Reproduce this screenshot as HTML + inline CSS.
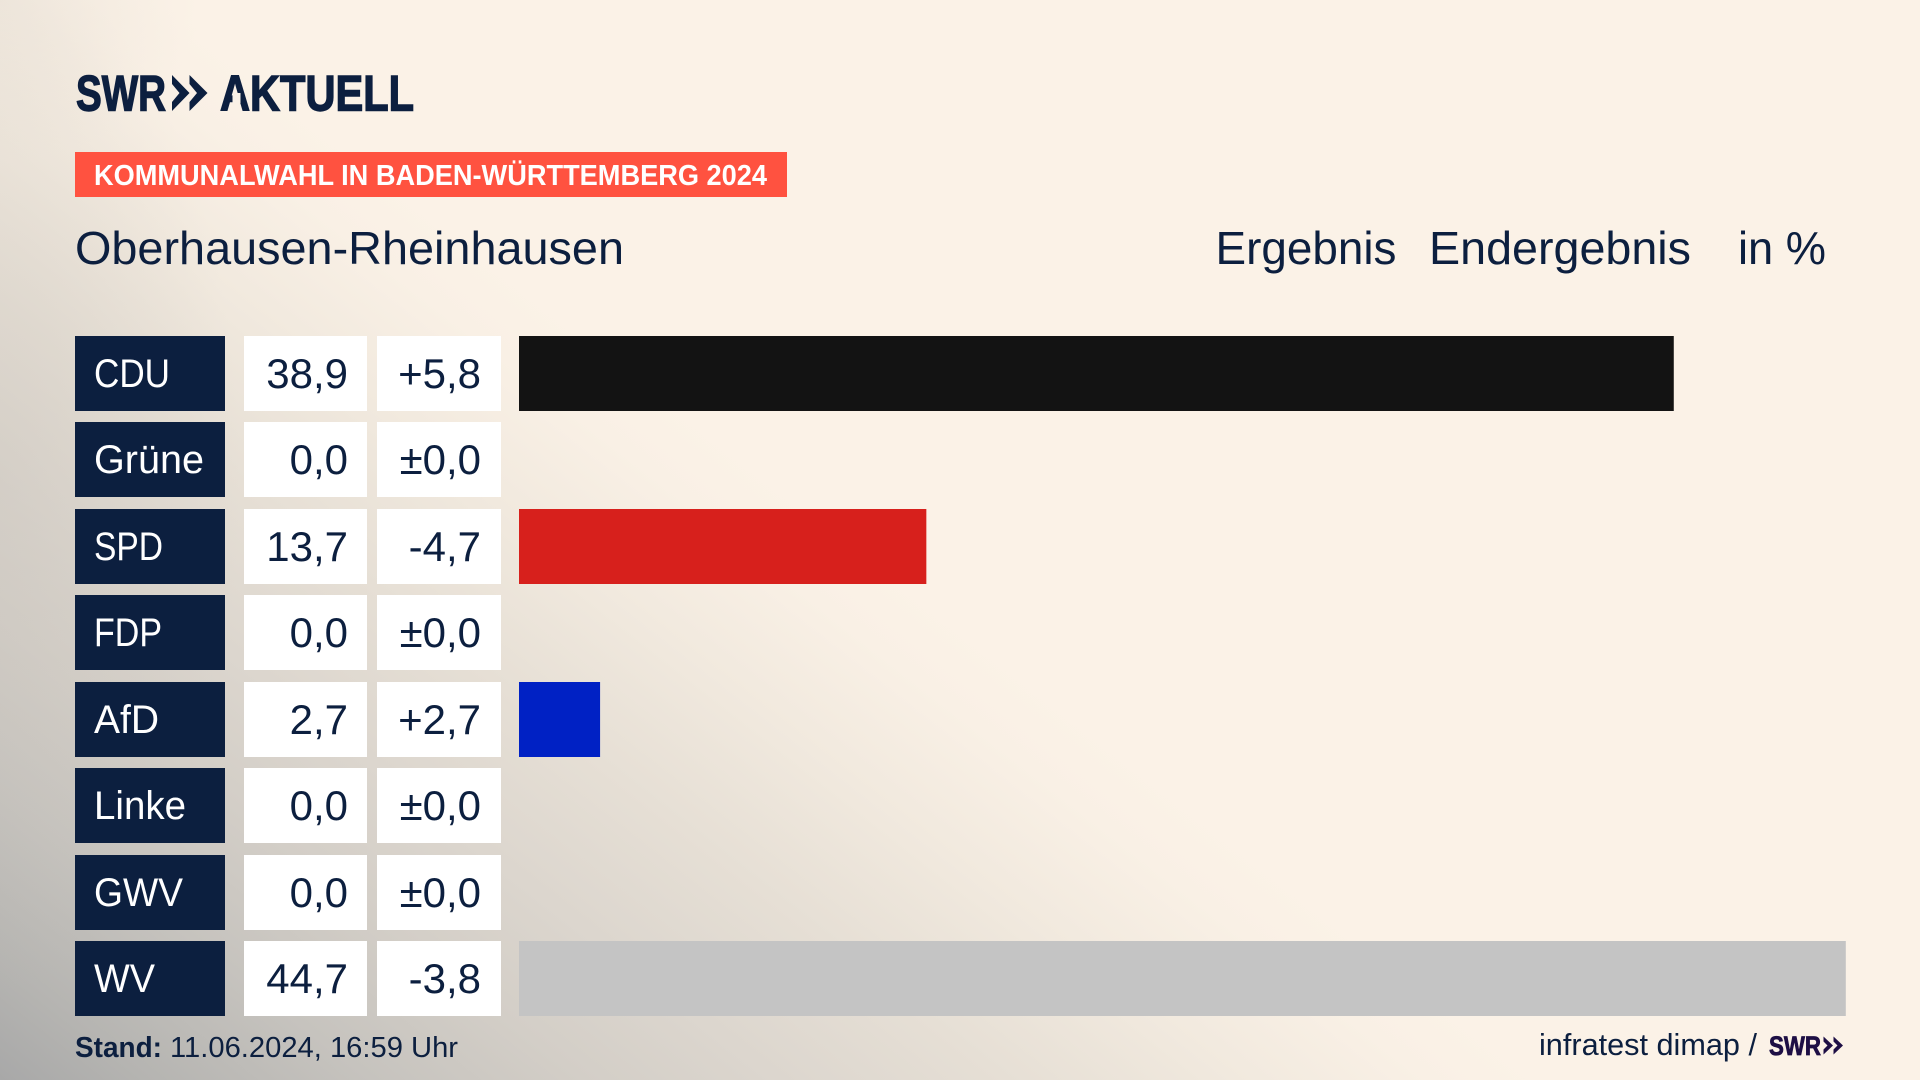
<!DOCTYPE html>
<html lang="de">
<head>
<meta charset="utf-8">
<title>Kommunalwahl Oberhausen-Rheinhausen</title>
<style>
html,body{margin:0;padding:0;width:1920px;height:1080px;overflow:hidden;background:#fbf2e7}
#bg{position:absolute;left:0;top:0;width:1920px;height:1080px;
background:
radial-gradient(ellipse 240px 520px at 0px 480px,rgba(195,190,183,.3) 0%,rgba(251,242,231,0) 100%),
radial-gradient(ellipse 200px 160px at 0px 0px,rgba(225,218,208,.4) 0%,rgba(251,242,231,0) 100%),
linear-gradient(38deg,#a8a8a8 0px,#b5b4b1 90px,#c6c3be 230px,#d3cec7 360px,#dcd6ce 480px,#e6dfd5 620px,#f1e9de 760px,#f9f0e5 880px,#fbf2e7 950px,#fbf2e7 100%)}
svg{position:absolute;left:0;top:0}
text{font-family:"Liberation Sans",sans-serif;fill:#0c1f3f}
</style>
</head>
<body>
<div id="bg"></div>
<svg id="chart" width="1920" height="1080" viewBox="0 0 1920 1080" xmlns="http://www.w3.org/2000/svg">
  <g>
    <text x="76" y="110.500" font-size="50" font-weight="700" stroke="#0c1f3f" stroke-width="1.400" textLength="90" lengthAdjust="spacingAndGlyphs">SWR</text>
    <path fill="#0c1f3f" d="M172 75L189.500 93 172 111 172 102 179.500 93 172 84ZM189.500 75L207.500 93 189.500 111 189.500 102 197 93 189.500 84Z"/>
    <text x="220" y="110.500" font-size="50" font-weight="700" stroke="#0c1f3f" stroke-width="1.400" textLength="194" lengthAdjust="spacingAndGlyphs">AKTUELL</text>
    <rect x="232.500" y="93" width="8" height="10" fill="#f9f1e7"/>
  </g>
  <rect x="75" y="152" width="712" height="45" fill="#ff5240"/>
  <text x="94" y="185" font-size="29" font-weight="700" style="fill:#fff" textLength="673" lengthAdjust="spacingAndGlyphs">KOMMUNALWAHL IN BADEN-WÜRTTEMBERG 2024</text>
  <text x="75" y="264" font-size="46" textLength="549" lengthAdjust="spacingAndGlyphs">Oberhausen-Rheinhausen</text>
  <text x="1215.500" y="264" font-size="46" textLength="181" lengthAdjust="spacingAndGlyphs">Ergebnis</text>
  <text x="1429" y="264" font-size="46" textLength="262" lengthAdjust="spacingAndGlyphs">Endergebnis</text>
  <text x="1738" y="264" font-size="46" textLength="88" lengthAdjust="spacingAndGlyphs">in %</text>
  <g id="rows"></g>
  <text x="75" y="1057" font-size="29"><tspan font-weight="700" textLength="87" lengthAdjust="spacingAndGlyphs">Stand:</tspan><tspan x="170" textLength="288" lengthAdjust="spacingAndGlyphs">11.06.2024, 16:59 Uhr</tspan></text>
  <text x="1539" y="1055" font-size="31" textLength="218" lengthAdjust="spacingAndGlyphs">infratest dimap /</text>
  <g>
    <text x="1769" y="1055" font-size="27" font-weight="700" stroke="#1e0f45" stroke-width="0.800" style="fill:#1e0f45" textLength="52" lengthAdjust="spacingAndGlyphs">SWR</text>
    <path fill="#1e0f45" d="M1823.500 1036.500L1833 1045.500 1823.500 1054.500 1823.500 1049.500 1827.500 1045.500 1823.500 1041.500ZM1833.500 1036.500L1843 1045.500 1833.500 1054.500 1833.500 1049.500 1837.500 1045.500 1833.500 1041.500Z"/>
  </g>
</svg>
<script>
const parties = ["CDU", "Grüne", "SPD", "FDP", "AfD", "Linke", "GWV", "WV"];
const results = [38.9, 0.0, 13.7, 0.0, 2.7, 0.0, 0.0, 44.7];
const changes = [5.8, 0.0, -4.7, 0.0, 2.7, 0.0, 0.0, -3.8];
const partyColors = ["#131313", "#1a9a3a", "#d7201c", "#ffd500", "#0021c4", "#b0007a", "#c4c4c4", "#c4c4c4"];
const labelWidths = { "CDU": 76, "Grüne": 110, "SPD": 69, "FDP": 68, "AfD": 65, "Linke": 92, "GWV": 89, "WV": 61 };

const SVG_NS = "http://www.w3.org/2000/svg";
const rowsGroup = document.getElementById("rows");
const ROW_TOP = 336, ROW_PITCH = 86.43, ROW_HEIGHT = 75;
const BAR_X0 = 519, PX_PER_PERCENT = 29.66;

function yOf(i) { return Math.round(ROW_TOP + i * ROW_PITCH); }
function barWidth(v) { return v > 0 ? 1 + v * PX_PER_PERCENT : 0; }
function fmtResult(v) { return v.toFixed(1).replace(".", ","); }
function fmtChange(v) {
  const s = Math.abs(v).toFixed(1).replace(".", ",");
  if (v > 0) return "+" + s;
  if (v < 0) return "-" + s;
  return "±" + s;
}
function makeRect(x, y, w, h, fill) {
  const r = document.createElementNS(SVG_NS, "rect");
  r.setAttribute("x", x);
  r.setAttribute("y", y);
  r.setAttribute("width", w);
  r.setAttribute("height", h);
  r.setAttribute("fill", fill);
  rowsGroup.appendChild(r);
  return r;
}
function makeText(x, y, str, size, anchor, fill) {
  const t = document.createElementNS(SVG_NS, "text");
  t.setAttribute("x", x);
  t.setAttribute("y", y);
  t.setAttribute("font-size", size);
  t.setAttribute("text-anchor", anchor);
  t.style.fill = fill;
  t.textContent = str;
  rowsGroup.appendChild(t);
  return t;
}

parties.forEach(function (party, i) {
  const y = yOf(i);
  const slug = party.toLowerCase().replace("ü", "ue");

  const labelBox = makeRect(75, y, 150, ROW_HEIGHT, "#0c1f3f");
  
  

  const label = makeText(94, y + 51, party, 40, "start", "#ffffff");
  label.setAttribute("textLength", labelWidths[party]);
  label.setAttribute("lengthAdjust", "spacingAndGlyphs");
  
  

  const resultBox = makeRect(244, y, 123, ROW_HEIGHT, "#ffffff");
  
  

  const resultText = makeText(348, y + 52, fmtResult(results[i]), 42, "end", "#0c1f3f");
  
  

  const changeBox = makeRect(377, y, 124, ROW_HEIGHT, "#ffffff");
  
  

  const changeText = makeText(481, y + 52, fmtChange(changes[i]), 42, "end", "#0c1f3f");
  
  

  const bar = makeRect(BAR_X0, y, barWidth(results[i]), ROW_HEIGHT, partyColors[i]);
  
  
});
</script>
</body>
</html>
